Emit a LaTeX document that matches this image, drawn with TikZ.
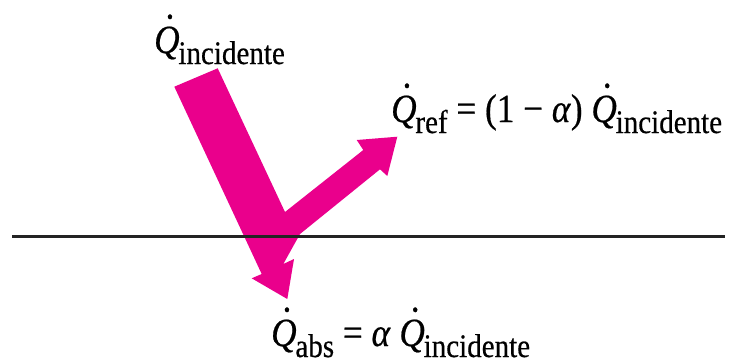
\documentclass[tikz,border=0pt]{standalone}
\usepackage{fontspec}
\newfontfamily\lblfont[FakeStretch=0.88, FakeBold=0.5]{Liberation Serif}
\usepackage{tikz}
\usetikzlibrary{positioning}
\definecolor{radpink}{RGB}{234,0,140}
\definecolor{surfgray}{RGB}{35,35,35}
% dotted Q (heat rate) and lowered subscript
\newcommand{\Qd}{{\itshape Q\kern-0.33em\raisebox{0.86em}{.}\kern0.08em}}
\newcommand{\sbs}[1]{\raisebox{-11pt}{\fontsize{33}{35}\selectfont #1}}

\begin{document}
\begin{tikzpicture}[x=1pt, y=-1pt,
    lbl/.style={anchor=base west, inner sep=0pt,
                font=\lblfont\fontsize{40}{42}\selectfont},
    beam/.style={fill=radpink, draw=none}
  ]
    \useasboundingbox (0,0) rectangle (733,360);

    % Incident, reflected and absorbed radiation
    \fill[beam] (174.3,86.7) -- (217.7,68.3) -- (285,212)
      -- (363.3,150) -- (356.7,140) -- (397.3,136.7) -- (387.3,176)
      -- (380,169.3) -- (300,234) -- (283.3,264) -- (294,259)
      -- (287.3,299) -- (251.7,278.3) -- (261.7,274) -- cycle;

    % Surface
    \draw[surfgray, line width=3.6pt] (12,236.5) -- (725,236.5);

    % Labels
    \node[lbl] (qinc) at (154,53) {\Qd\sbs{incidente}};
    \node[lbl] (qref) at (391,122)
      {\Qd\sbs{ref} = (1 − \textit{α}) \Qd\sbs{incidente}};
    \node[lbl] (qabs) at (271,346)
      {\Qd\sbs{abs} = \textit{α} \Qd\sbs{incidente}};
  \end{tikzpicture}
\end{document}
